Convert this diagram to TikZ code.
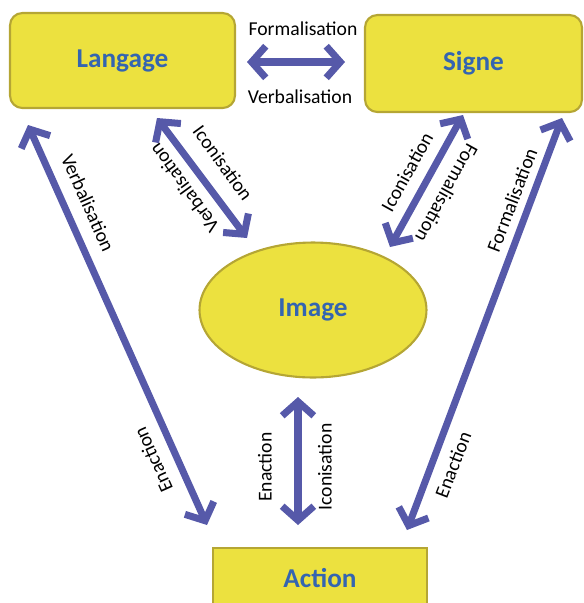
\documentclass[tikz,border=0pt]{standalone}
\usepackage{fontspec}
\setmainfont{Carlito}
\usepackage{tikz}
\usetikzlibrary{shapes.geometric}
\usetikzlibrary{arrows.meta}
\definecolor{boxyellow}{HTML}{ECE13F}
\definecolor{boxedge}{HTML}{B5A634}
\definecolor{titleblue}{HTML}{3465B0}
\definecolor{arrowblue}{HTML}{5659A9}
\tikzset{
  pole/.style={fill=boxyellow, draw=boxedge, line width=1.2pt, text=titleblue,
    font=\fontsize{15.5}{18}\selectfont\bfseries, inner sep=0pt},
  twoway/.style={draw=arrowblue, line width=4pt,
    {Straight Barb[length=8pt,width=18pt]}-{Straight Barb[length=8pt,width=18pt]}},
  lbl/.style={font=\fontsize{11.2}{13}\selectfont, inner sep=0pt}
}
\begin{document}
\begin{tikzpicture}[x=0.02cm,y=-0.02cm]
\useasboundingbox (0,0) rectangle (584,603);
% the four poles
\node[pole, rectangle, rounded corners=7pt, minimum width=4.5cm, minimum height=1.9cm] (langage) at (122.5,60.5) {Langage};
\node[pole, rectangle, rounded corners=7pt, minimum width=4.34cm, minimum height=1.94cm] (signe) at (473.5,63.5) {Signe};
\node[pole, ellipse, minimum width=4.54cm, minimum height=2.7cm] (image) at (313,310) {Image};
\node[pole, rectangle, minimum width=4.28cm, minimum height=1.2cm] (action) at (320,578) {Action};

% arrow ends
\coordinate (lgS) at (247,62);
\coordinate (sgL) at (345,62);
\coordinate (lgI) at (157,118);
\coordinate (imL) at (247,238);
\coordinate (sgI) at (463,115);
\coordinate (imS) at (390,247);
\coordinate (lgA) at (28,125);
\coordinate (acL) at (207,525);
\coordinate (sgA) at (562,118);
\coordinate (acS) at (407,530);
\coordinate (imA) at (298,397);
\coordinate (acI) at (298,525);

\draw[twoway] (lgS) -- (sgL);
\draw[twoway] (lgI) -- (imL);
\draw[twoway] (sgI) -- (imS);
\draw[twoway] (lgA) -- (acL);
\draw[twoway] (sgA) -- (acS);
\draw[twoway] (imA) -- (acI);

% labels
\node[lbl] (fLS) at (303,29) {Formalisation};
\node[lbl] (vLS) at (300,97) {Verbalisation};
\node[lbl, rotate=-54] (iLI) at (223,163) {Iconisation};
\node[lbl, rotate=126] (vLI) at (184,188) {Verbalisation};
\node[lbl, rotate=61] (iSI) at (407,172) {Iconisation};
\node[lbl, rotate=-119] (fSI) at (447,193) {Formalisation};
\node[lbl, rotate=-66] (vLA) at (88,203) {Verbalisation};
\node[lbl, rotate=114] (eLA) at (153,460) {Enaction};
\node[lbl, rotate=69] (fSA) at (512,200) {Formalisation};
\node[lbl, rotate=69] (eSA) at (453,465) {Enaction};
\node[lbl, rotate=90] (eIA) at (265,467) {Enaction};
\node[lbl, rotate=90] (iIA) at (325,467) {Iconisation};
\end{tikzpicture}
\end{document}
